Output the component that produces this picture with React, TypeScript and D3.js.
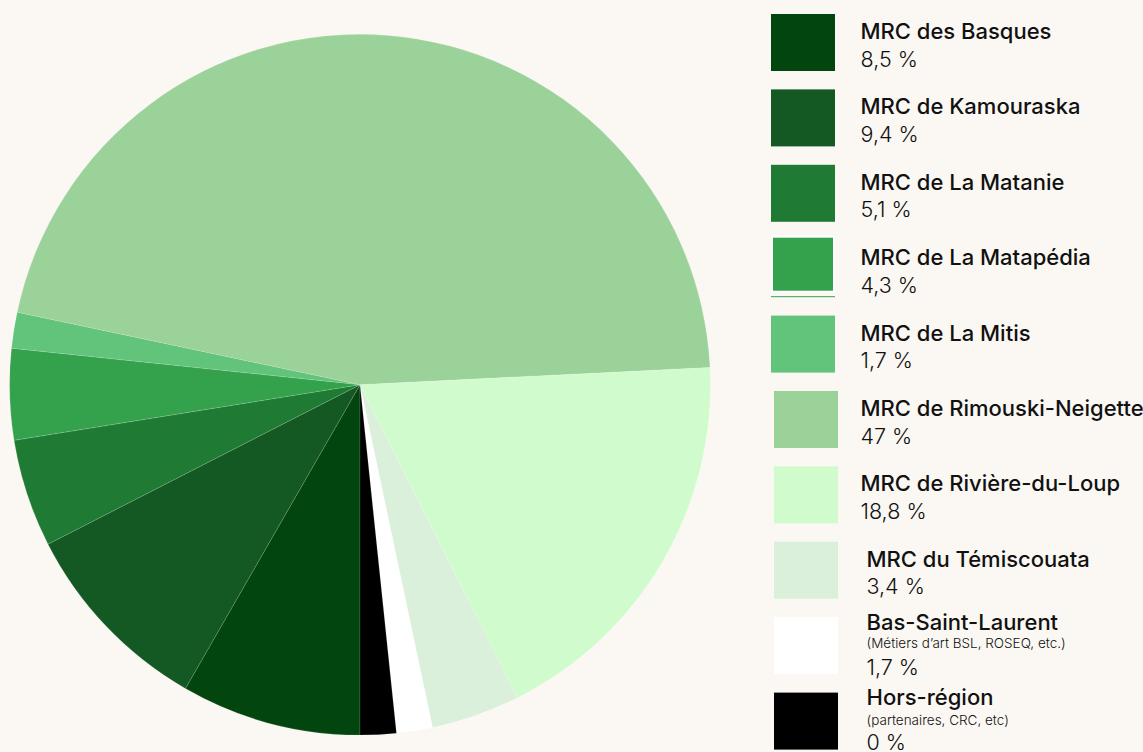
import React from 'react';
import * as d3 from 'd3';

// slices, clockwise from the bottom of the pie
const regions = [
  'MRC des Basques',
  'MRC de Kamouraska',
  'MRC de La Matanie',
  'MRC de La Matapédia',
  'MRC de La Mitis',
  'MRC de Rimouski-Neigette',
  'MRC de Rivière-du-Loup',
  'MRC du Témiscouata',
  'Bas-Saint-Laurent',
  'Hors-région',
];
const subtitles = ['', '', '', '', '', '', '', '', '(Métiers d’art BSL, ROSEQ, etc.)', '(partenaires, CRC, etc)'];
// share of the slice as drawn
const shares = [8.5, 9.4, 5.1, 4.3, 1.7, 47, 18.8, 4.2, 1.7, 1.7];
// labels printed in the legend
const shareLabels = ['8,5 %', '9,4 %', '5,1 %', '4,3 %', '1,7 %', '47 %', '18,8 %', '3,4 %', '1,7 %', '0 %'];
const colors = ['#02450f', '#145823', '#1f7b33', '#34a24c', '#61c47a', '#9ad29a', '#d0fccd', '#daf0db', '#ffffff', '#000000'];

const W = 1143;
const H = 752;
const BG = '#fbf8f3';
const FONT = 'Inter, "Noto Sans", sans-serif';

type Slice = { name: string; value: number; color: string };

const App: React.FC = () => {
  const data: Slice[] = regions.map((name, i) => ({ name, value: shares[i], color: colors[i] }));

  const cx = 360;
  const cy = 384.7;
  const radius = 350.4;

  const pie = d3.pie<Slice>()
    .sort(null)
    .value(d => d.value)
    .startAngle(Math.PI)
    .endAngle(3 * Math.PI);

  const arc = d3.arc<d3.PieArcDatum<Slice>>()
    .innerRadius(0)
    .outerRadius(radius);

  const arcs = pie(data);

  const rowStep = 75.4;

  return (
    <svg
      width={W}
      height={H}
      viewBox={`0 0 ${W} ${H}`}
      style={{ position: 'absolute', left: 0, top: 0, background: BG, display: 'block' }}
    >
      <rect width={W} height={H} fill={BG} />
      <g transform={`translate(${cx},${cy})`}>
        {arcs.map((a, i) => (
          <path
            key={i}
            d={arc(a) ?? ''}
            fill={a.data.color}
            stroke="rgba(255,255,255,0.22)"
            strokeWidth={0.6}
          />
        ))}
      </g>

      <g fontFamily={FONT} fill="#111">
        {data.map((d, i) => {
          const top = 14 + i * rowStep;
          const sx = i < 5 ? 771 : 774;
          const tx = i < 7 ? 860.5 : 866.5;
          const sub = subtitles[i];
          const titleY = top + (sub ? 12.8 : 25);
          const valueY = titleY + (sub ? 45 : 27.6);
          const matapedia = i === 3;
          return (
            <g key={d.name}>
              <rect
                x={matapedia ? sx + 1 : sx}
                y={matapedia ? top - 3.5 : top}
                width={matapedia ? 62 : 64}
                height={matapedia ? 55 : 57}
                fill={d.color}
                stroke={matapedia ? '#ffffff' : 'none'}
                strokeWidth={matapedia ? 2 : 0}
              />
              {matapedia && (
                <line x1={sx} x2={sx + 64} y1={top + 56.5} y2={top + 56.5} stroke={d.color} strokeWidth={1} />
              )}
              <text x={tx} y={titleY} fontSize={22} fontWeight={500}>
                {d.name}
              </text>
              {sub && (
                <text x={tx} y={titleY + (i === 8 ? 18.3 : 20)} fontSize={13.5} fontWeight={300}>
                  {sub}
                </text>
              )}
              <text x={tx} y={valueY} fontSize={21.5} fontWeight={300}>
                {shareLabels[i]}
              </text>
            </g>
          );
        })}
      </g>
    </svg>
  );
};

export default App;
